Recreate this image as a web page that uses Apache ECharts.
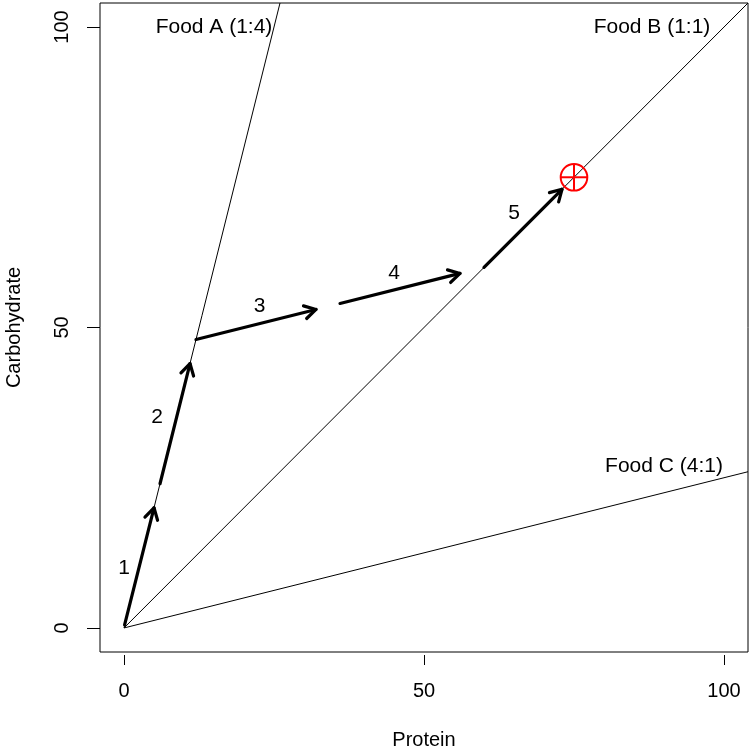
<!DOCTYPE html>
<html><head><meta charset="utf-8">
<script src="https://cdn.jsdelivr.net/npm/echarts@6/dist/echarts.min.js"></script>
<style>html,body{margin:0;padding:0;background:#fff}#c{width:752px;height:752px}</style>
</head><body><div id="c"></div>
<script>
// ---- data ----
const xTicks = [0, 50, 100];
const yTicks = [0, 50, 100];
const foodNames = ['Food A (1:4)', 'Food B (1:1)', 'Food C (4:1)'];
const foodLineEnds = [[26, 104], [104, 104], [104, 26]];
const foodLabelPos = [[15, 100], [88, 100], [90, 27]];
const arrowStarts = [[0.1, 0.5], [6, 24], [12, 48], [36, 54], [60, 60]];
const arrowEnds = [[5, 20], [11, 44], [32, 53], [56, 59], [73, 73]];
const stepLabels = ['1', '2', '3', '4', '5'];
const stepLabelPos = [[0, 10], [5.5, 35], [22.6, 53.5], [45, 59], [65, 69]];
const target = [75, 75];

const FONT = '"Liberation Sans", Arial, Helvetica, sans-serif';
const FS = 20;
const FS_IN = 21;

const chart = echarts.init(document.getElementById('c'), null, {renderer: 'canvas'});

const foodSeries = foodLineEnds.map((e, i) => ({
  type: 'line', name: foodNames[i], data: [[0, 0], e], symbol: 'none', silent: true, clip: true,
  lineStyle: {color: '#000', width: 1}, z: 2
}));

const textData = foodNames.map((n, i) => [foodLabelPos[i][0], foodLabelPos[i][1], n])
  .concat(stepLabels.map((n, i) => [stepLabelPos[i][0], stepLabelPos[i][1], n]));

const option = {
  animation: false,
  backgroundColor: '#fff',
  grid: {left: 100, top: 3, width: 648, height: 649, show: true, borderColor: '#000', borderWidth: 1,
         backgroundColor: 'transparent', containLabel: false, outerBoundsMode: 'none'},
  xAxis: {
    type: 'value', min: -4, max: 104, position: 'bottom', offset: 3,
    axisLine: {show: false, onZero: false},
    axisTick: {show: true, length: 10, customValues: xTicks, lineStyle: {color: '#000', width: 1}},
    axisLabel: {customValues: xTicks, margin: 26, fontSize: FS, color: '#000', fontFamily: FONT},
    splitLine: {show: false},
    name: 'Protein', nameLocation: 'middle', nameGap: 75,
    nameTextStyle: {fontSize: FS, color: '#000', fontFamily: FONT}
  },
  yAxis: {
    type: 'value', min: -4, max: 104, position: 'left',
    axisLine: {show: false, onZero: false},
    axisTick: {show: true, length: 13, customValues: yTicks, lineStyle: {color: '#000', width: 1}},
    axisLabel: {customValues: yTicks, margin: 28, rotate: 90, fontSize: FS, color: '#000', fontFamily: FONT},
    splitLine: {show: false},
    name: 'Carbohydrate', nameLocation: 'middle', nameGap: 76, nameRotate: 90,
    nameTextStyle: {fontSize: FS, color: '#000', fontFamily: FONT}
  },
  series: foodSeries.concat([
    {
      type: 'custom', name: 'arrows', silent: true, z: 3,
      data: arrowStarts.map((s, i) => [s[0], s[1], arrowEnds[i][0], arrowEnds[i][1]]),
      encode: {x: [0, 2], y: [1, 3]},
      renderItem: function (params, api) {
        const p0 = api.coord([api.value(0), api.value(1)]);
        const p1 = api.coord([api.value(2), api.value(3)]);
        const a = Math.atan2(p1[1] - p0[1], p1[0] - p0[0]);
        const L = 13, h = Math.PI / 6;
        const l1 = [p1[0] - L * Math.cos(a - h), p1[1] - L * Math.sin(a - h)];
        const l2 = [p1[0] - L * Math.cos(a + h), p1[1] - L * Math.sin(a + h)];
        const st = {stroke: '#000', lineWidth: 3.2, fill: null, lineCap: 'round', lineJoin: 'round'};
        return {type: 'group', children: [
          {type: 'polyline', shape: {points: [p0, p1]}, style: st},
          {type: 'polyline', shape: {points: [l1, p1, l2]}, style: st}
        ]};
      }
    },
    {
      type: 'custom', name: 'target', silent: true, z: 4,
      data: [target],
      encode: {x: 0, y: 1},
      renderItem: function (params, api) {
        const c = api.coord([api.value(0), api.value(1)]);
        const r = 13.3;
        const st = {stroke: '#ff0000', lineWidth: 2, fill: null};
        return {type: 'group', children: [
          {type: 'circle', shape: {cx: c[0], cy: c[1], r: r}, style: st},
          {type: 'line', shape: {x1: c[0] - r, y1: c[1], x2: c[0] + r, y2: c[1]}, style: st},
          {type: 'line', shape: {x1: c[0], y1: c[1] - r, x2: c[0], y2: c[1] + r}, style: st}
        ]};
      }
    },
    {
      type: 'custom', name: 'labels', silent: true, z: 5,
      data: textData,
      encode: {x: 0, y: 1},
      renderItem: function (params, api) {
        const c = api.coord([api.value(0), api.value(1)]);
        return {type: 'text', x: c[0], y: c[1], style: {
          text: textData[params.dataIndex][2], fontSize: FS_IN, fontFamily: FONT, fill: '#000',
          align: 'center', verticalAlign: 'middle'
        }};
      }
    }
  ])
};
chart.setOption(option);
</script></body></html>
